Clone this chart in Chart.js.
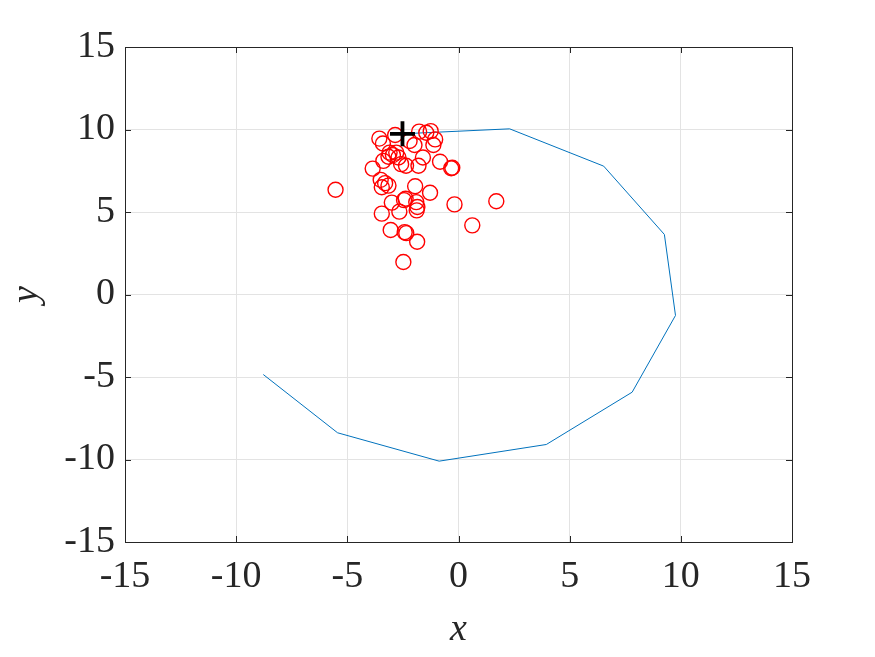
<!DOCTYPE html>
<html>
<head>
<meta charset="utf-8">
<script src="https://cdn.jsdelivr.net/npm/chart.js@4"></script>
<style>
html,body{margin:0;padding:0;background:#fff;}
#wrap{width:875px;height:657px;}
</style>
</head>
<body>
<div id="wrap"><canvas id="c" width="875" height="657"></canvas></div>
<script>
// Trajectory (blue line)
const pathX = [-8.78, -5.44, -0.87, 3.95, 7.81, 9.76, 9.26, 6.53, 2.30, -2.52];
const pathY = [-4.85, -8.38, -10.10, -9.09, -5.92, -1.27, 3.64, 7.78, 10.04, 9.74];
// Measurements (red circles)
const circX = [-5.53,-3.56,-3.40,-2.85,-2.20,-1.77,-1.45,-1.25,-1.05,-1.13,-1.98,-1.60,-3.10,-2.95,-2.80,-3.15,-2.70,-3.38,-2.36,-1.80,-2.58,-0.83,-0.33,-0.28,-3.86,-3.50,-3.45,-3.15,-3.30,-1.95,-1.28,-3.00,-2.45,-2.38,-2.66,-1.88,-1.85,-1.90,-3.45,-0.18,1.70,0.62,-3.05,-2.42,-2.35,-1.86,-2.48];
const circY = [6.35,9.45,9.15,9.67,9.30,9.87,9.80,9.90,9.40,9.06,9.06,8.30,8.60,8.45,8.60,8.35,8.30,8.10,7.80,7.80,7.90,8.05,7.65,7.68,7.63,6.95,6.50,6.60,6.75,6.56,6.17,5.57,5.72,5.80,5.02,5.10,5.30,5.60,4.90,5.46,5.65,4.19,3.91,3.78,3.72,3.20,1.97];
// Estimate (black cross)
const estX = [-2.52];
const estY = [9.74];
// Axes
const xTicks = [-15, -10, -5, 0, 5, 10, 15];
const yTicks = [-15, -10, -5, 0, 5, 10, 15];
const xTitle = 'x';
const yTitle = 'y';

const toPts = (xs, ys) => xs.map((x, i) => ({x: x, y: ys[i]}));
const FONT = "'Liberation Serif', 'Times New Roman', serif";
const AXC = '#262626';

const boxPlugin = {
  id: 'boxPlugin',
  afterDatasetsDraw(chart) {
    const {ctx, chartArea: a, scales} = chart;
    ctx.save();
    ctx.strokeStyle = AXC;
    ctx.lineWidth = 1;
    ctx.beginPath();
    const tl = 6;
    xTicks.forEach(v => {
      const px = Math.round(scales.x.getPixelForValue(v)) + 0.5;
      ctx.moveTo(px, a.bottom); ctx.lineTo(px, a.bottom - tl);
      ctx.moveTo(px, a.top); ctx.lineTo(px, a.top + tl);
    });
    yTicks.forEach(v => {
      const py = Math.round(scales.y.getPixelForValue(v)) + 0.5;
      ctx.moveTo(a.left, py); ctx.lineTo(a.left + tl, py);
      ctx.moveTo(a.right, py); ctx.lineTo(a.right - tl, py);
    });
    ctx.stroke();
    ctx.strokeRect(Math.round(a.left) + 0.5, Math.round(a.top) + 0.5, Math.round(a.right - a.left), Math.round(a.bottom - a.top));
    ctx.restore();
  }
};

new Chart(document.getElementById('c'), {
  type: 'scatter',
  data: {
    datasets: [
      {
        data: toPts(pathX, pathY),
        order: 3,
        showLine: true,
        borderColor: '#0072BD',
        borderWidth: 1,
        pointRadius: 0,
        fill: false,
        tension: 0
      },
      {
        data: toPts(circX, circY),
        order: 2,
        pointStyle: 'circle',
        pointRadius: 7.5,
        pointBorderColor: '#FF0000',
        pointBackgroundColor: 'rgba(0,0,0,0)',
        pointBorderWidth: 1.4,
        showLine: false
      },
      {
        data: toPts(estX, estY),
        order: 1,
        pointStyle: 'cross',
        pointRadius: 12.5,
        pointBorderColor: '#000000',
        pointBorderWidth: 3.8,
        showLine: false
      }
    ]
  },
  options: {
    responsive: false,
    animation: false,
    devicePixelRatio: 1,
    layout: {padding: {top: 47, right: 83, left: 0, bottom: 0}},
    plugins: {legend: {display: false}, tooltip: {enabled: false}},
    scales: {
      x: {
        type: 'linear', min: -15, max: 15,
        afterBuildTicks: s => { s.ticks = xTicks.map(v => ({value: v})); },
        afterFit: s => { s.height = 115; },
        grid: {color: '#e3e3e3', lineWidth: 1, drawTicks: false},
        border: {display: false},
        ticks: {color: AXC, font: {family: FONT, size: 38}, padding: 12, maxRotation: 0},
        title: {display: true, text: xTitle, color: AXC, font: {family: FONT, size: 38, style: 'italic'}, padding: {top: 0}}
      },
      y: {
        type: 'linear', min: -15, max: 15,
        afterBuildTicks: s => { s.ticks = yTicks.map(v => ({value: v})); },
        afterFit: s => { s.width = 125; },
        grid: {color: '#e3e3e3', lineWidth: 1, drawTicks: false},
        border: {display: false},
        ticks: {color: AXC, font: {family: FONT, size: 38}, padding: 10},
        title: {display: true, text: yTitle, color: AXC, font: {family: FONT, size: 38, style: 'italic'}, padding: {bottom: 0}}
      }
    }
  },
  plugins: [boxPlugin]
});
</script>
</body>
</html>
